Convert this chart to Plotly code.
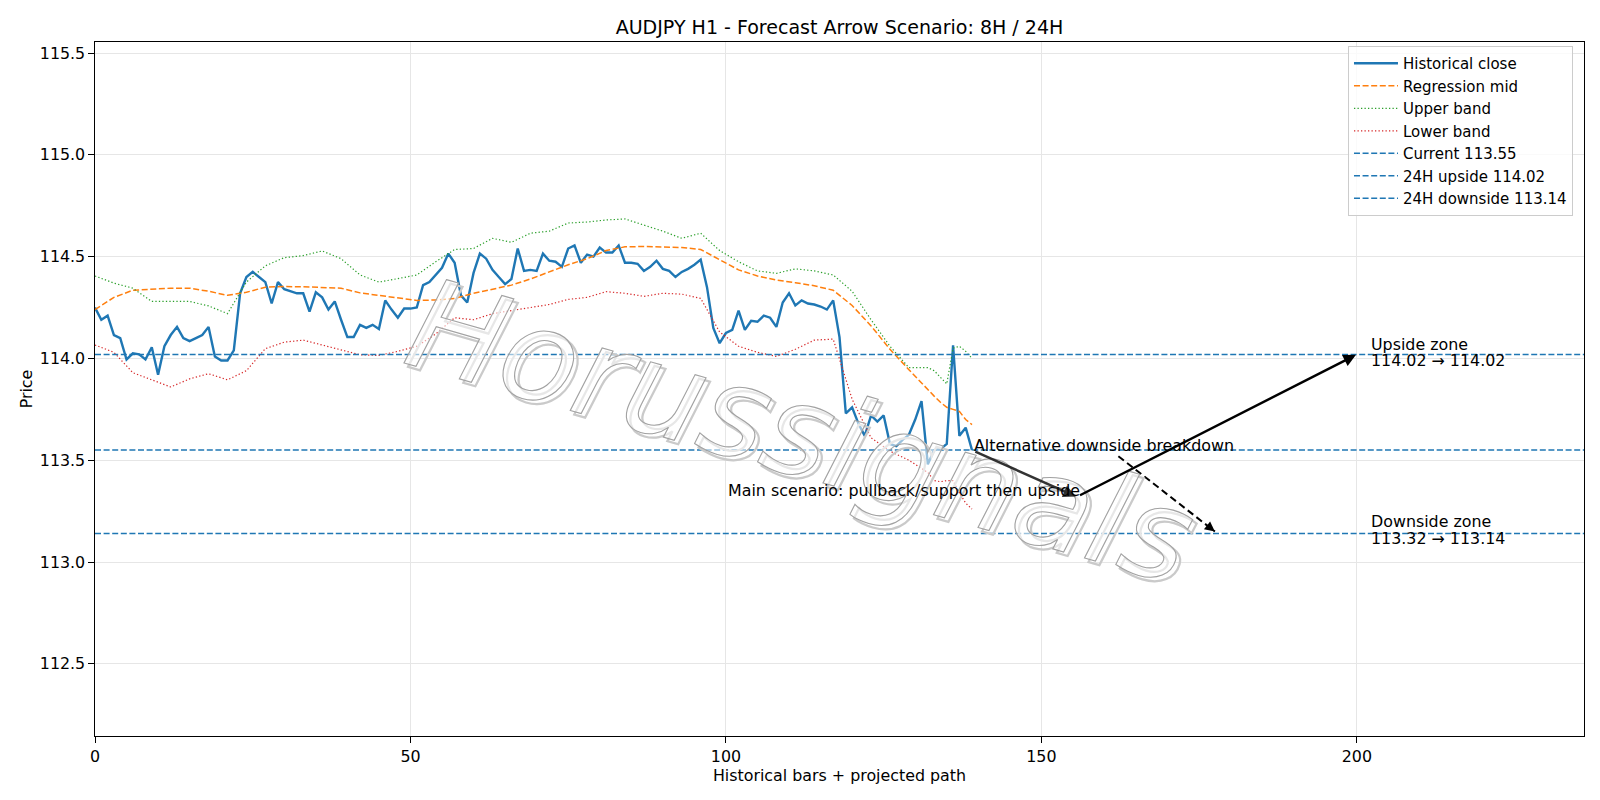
import plotly.graph_objects as go

# ---------------- data ----------------
close = [
    114.25, 114.19, 114.21, 114.115, 114.10, 113.995, 114.025, 114.02, 113.995, 114.055,
    113.92, 114.06, 114.115, 114.155, 114.10, 114.085, 114.10, 114.115, 114.155, 114.01,
    113.99, 113.99, 114.04, 114.32, 114.40, 114.425, 114.40, 114.375, 114.27, 114.375,
    114.34, 114.33, 114.32, 114.32, 114.23, 114.325, 114.30, 114.24, 114.28, 114.19,
    114.105, 114.105, 114.165, 114.15, 114.165, 114.145, 114.285, 114.24, 114.20, 114.245,
    114.245, 114.25, 114.36, 114.375, 114.41, 114.445, 114.515, 114.47, 114.31, 114.275,
    114.42, 114.515, 114.49, 114.435, 114.40, 114.365, 114.39, 114.54, 114.43, 114.435,
    114.43, 114.515, 114.48, 114.475, 114.45, 114.54, 114.555, 114.47, 114.51, 114.50,
    114.545, 114.52, 114.52, 114.555, 114.47, 114.47, 114.465, 114.43, 114.45, 114.48,
    114.44, 114.43, 114.40, 114.425, 114.44, 114.46, 114.485, 114.35, 114.15, 114.075,
    114.125, 114.14, 114.235, 114.14, 114.185, 114.18, 114.21, 114.20, 114.155, 114.275,
    114.32, 114.26, 114.285, 114.27, 114.265, 114.255, 114.24, 114.285, 114.105, 113.73,
    113.76, 113.68, 113.62, 113.72, 113.69, 113.72, 113.58, 113.57, 113.60, 113.625,
    113.70, 113.79, 113.48, 113.55, 113.555, 113.58, 114.065, 113.62, 113.66, 113.55,
]
bars = list(range(len(close)))

band_x = [0, 3, 6, 9, 12, 15, 18, 21, 24, 27, 30, 33, 36, 39, 42, 45, 48, 51, 54, 57,
          60, 63, 66, 69, 72, 75, 78, 81, 84, 87, 90, 93, 96, 99, 102, 105, 108, 111,
          114, 117, 120, 123, 126, 129, 132, 133, 134, 135, 136, 137, 138, 139]
mid = [114.24, 114.30, 114.335, 114.34, 114.345, 114.345, 114.33, 114.31, 114.325, 114.35,
       114.353, 114.352, 114.35, 114.345, 114.322, 114.31, 114.296, 114.285, 114.287, 114.295,
       114.32, 114.34, 114.36, 114.39, 114.425, 114.46, 114.49, 114.53, 114.548, 114.55,
       114.547, 114.545, 114.535, 114.485, 114.435, 114.405, 114.385, 114.372, 114.357, 114.335,
       114.26, 114.16, 114.045, 113.945, 113.845, 113.815, 113.785, 113.76, 113.75, 113.74,
       113.70, 113.675]
upper = [114.405, 114.37, 114.345, 114.28, 114.28, 114.28, 114.258, 114.22, 114.375, 114.455,
         114.495, 114.505, 114.528, 114.49, 114.41, 114.375, 114.392, 114.41, 114.475, 114.535,
         114.54, 114.59, 114.57, 114.615, 114.625, 114.665, 114.67, 114.68, 114.685, 114.655,
         114.625, 114.59, 114.615, 114.53, 114.475, 114.43, 114.418, 114.44, 114.43, 114.41,
         114.33, 114.19, 114.06, 113.955, 113.955, 113.94, 113.91, 113.875, 114.05, 114.06,
         114.035, 114.00]
lower = [114.066, 114.03, 113.93, 113.895, 113.86, 113.90, 113.925, 113.895, 113.94, 114.048,
         114.08, 114.09, 114.066, 114.045, 114.018, 114.015, 114.035, 114.06, 114.12, 114.20,
         114.19, 114.22, 114.235, 114.25, 114.265, 114.29, 114.30, 114.328, 114.32, 114.305,
         114.32, 114.316, 114.295, 114.13, 114.06, 114.03, 114.01, 114.045, 114.09, 114.095,
         113.80, 113.61, 113.545, 113.50, 113.44, 113.40, 113.395, 113.40, 113.40, 113.34,
         113.29, 113.26]

current_price = 113.55
upside_level = 114.02
downside_level = 113.14
support_level = 113.32

main_path_x = [139, 155.6, 200]
main_path_y = [113.55, 113.32, 114.02]
alt_path_x = [162.2, 177.5]
alt_path_y = [113.52, 113.15]

x_range = [0, 236]
y_range = [112.146, 115.554]
x_ticks = [0, 50, 100, 150, 200]
y_ticks = [112.5, 113.0, 113.5, 114.0, 114.5, 115.0, 115.5]

# ---------------- figure ----------------
FONT = "DejaVu Sans"
FS = 15.87     # ticks / labels / annotations
FS_LEG = 15.0  # legend
FS_T = 19.05   # title
BLUE = "#1f77b4"

fig = go.Figure()


def add_line(x, y, name, line):
    fig.add_trace(go.Scatter(x=x, y=y, mode="lines", name=name, legendgroup=name, line=line))


add_line(bars, close, "Historical close", dict(color=BLUE, width=2.4))
add_line(band_x, mid, "Regression mid", dict(color="#ff7f0e", width=1.5, dash="6px,2.6px"))
add_line(band_x, upper, "Upper band", dict(color="#2ca02c", width=1.2, dash="1.3px,2.2px"))
add_line(band_x, lower, "Lower band", dict(color="#d62728", width=1.2, dash="1.3px,2.2px"))
for lvl, nm in [(current_price, f"Current {current_price:.2f}"),
                (upside_level, f"24H upside {upside_level:.2f}"),
                (downside_level, f"24H downside {downside_level:.2f}")]:
    add_line(x_range, [lvl, lvl], nm, dict(color=BLUE, width=1.5, dash="6px,2.6px"))

# dashed alternative arrow line
fig.add_trace(go.Scatter(x=alt_path_x, y=alt_path_y, mode="lines", showlegend=False,
                         line=dict(color="black", width=2, dash="7px,4px"), hoverinfo="skip"))

annotations = []
# watermark (index 0 = shadow copy, index 1 = main copy; outlined via post script)
wm_font = dict(family=FONT, size=126, style="italic", color="rgba(255,255,255,0.5)")
annotations.append(dict(x=111.9, y=113.64, xref="x", yref="y", text="Horussignals",
                        showarrow=False, textangle=16, xshift=4, yshift=-4, font=wm_font))
annotations.append(dict(x=111.9, y=113.64, xref="x", yref="y", text="Horussignals",
                        showarrow=False, textangle=16, font=wm_font))
# main scenario arrows
annotations.append(dict(x=main_path_x[1], y=main_path_y[1], ax=main_path_x[0], ay=main_path_y[0],
                        xref="x", yref="y", axref="x", ayref="y", text="", showarrow=True,
                        arrowhead=2, arrowsize=1, arrowwidth=2.5, arrowcolor="rgba(30,30,30,0.9)",
                        standoff=1, startstandoff=2))
annotations.append(dict(x=main_path_x[2], y=main_path_y[2], ax=main_path_x[1], ay=main_path_y[1],
                        xref="x", yref="y", axref="x", ayref="y", text="", showarrow=True,
                        arrowhead=2, arrowsize=1, arrowwidth=2.5, arrowcolor="black",
                        standoff=1, startstandoff=2))
# alternative arrow head
hx = alt_path_x[1] - 0.04 * (alt_path_x[1] - alt_path_x[0])
hy = alt_path_y[1] - 0.04 * (alt_path_y[1] - alt_path_y[0])
annotations.append(dict(x=alt_path_x[1], y=alt_path_y[1], ax=hx, ay=hy,
                        xref="x", yref="y", axref="x", ayref="y", text="", showarrow=True,
                        arrowhead=2, arrowsize=1, arrowwidth=2, arrowcolor="black", standoff=0))
# texts
txt_font = dict(family=FONT, size=FS, color="black")
annotations.append(dict(x=139.0, y=113.575, xref="x", yref="y",
                        text="Alternative downside breakdown", showarrow=False,
                        xanchor="left", yanchor="middle", font=txt_font))
annotations.append(dict(x=156.5, y=113.35, xref="x", yref="y",
                        text="Main scenario: pullback/support then upside", showarrow=False,
                        xanchor="right", yanchor="middle", font=txt_font))
for yv, t in [(114.071, "Upside zone"),
              (113.989, f"{upside_level:.2f} \u2192 {upside_level:.2f}"),
              (113.198, "Downside zone"),
              (113.117, f"{support_level:.2f} \u2192 {downside_level:.2f}")]:
    annotations.append(dict(x=202, y=yv, xref="x", yref="y", text=t, showarrow=False,
                            xanchor="left", yanchor="middle", font=txt_font))

fig.update_layout(
    width=1600, height=800,
    margin=dict(l=95, r=16, t=42, b=64),
    paper_bgcolor="white", plot_bgcolor="white",
    font=dict(family=FONT, size=FS, color="black"),
    title=dict(text="AUDJPY H1 - Forecast Arrow Scenario: 8H / 24H", x=0.5, xref="paper",
               y=1 - 27.5 / 800, yanchor="middle", font=dict(size=FS_T, family=FONT, color="black")),
    showlegend=True,
    legend=dict(x=0.9926, y=0.9942, xanchor="right", yanchor="top",
                bgcolor="rgba(255,255,255,0.8)", bordercolor="#cccccc", borderwidth=1,
                font=dict(family=FONT, size=FS_LEG, color="black"), itemwidth=44, tracegroupgap=0),
    annotations=annotations,
    hovermode=False,
)
fig.update_xaxes(range=x_range, tickvals=x_ticks, showgrid=True, gridcolor="#e6e6e6", gridwidth=1,
                 showline=True, linecolor="black", linewidth=1.2, mirror=True,
                 ticks="outside", ticklen=5.5, tickwidth=1.2, tickcolor="black", zeroline=False,
                 tickfont=dict(size=FS), title=dict(text="Historical bars + projected path",
                                                     font=dict(size=FS), standoff=1))
fig.update_yaxes(range=y_range, tickvals=y_ticks, tickformat=".1f", showgrid=True, gridcolor="#e6e6e6",
                 gridwidth=1, showline=True, linecolor="black", linewidth=1.2, mirror=True,
                 ticks="outside", ticklen=5.5, tickwidth=1.2, tickcolor="black", zeroline=False,
                 tickfont=dict(size=FS), title=dict(text="Price", font=dict(size=FS), standoff=3))

post = """
var gd = document.getElementById('{plot_id}');
function wm(){
  gd.querySelectorAll('g.annotation').forEach(function(g){
    var idx = g.getAttribute('data-index');
    var t = g.querySelector('text.annotation-text');
    if(!t) return;
    if(idx === '0'){ t.style.stroke = '#cacaca'; t.style.strokeWidth = '2.2px'; t.style.fill = 'none'; }
    if(idx === '1'){ t.style.stroke = '#a2a2a2'; t.style.strokeWidth = '1.1px';
                     t.style.fill = 'rgba(255,255,255,0.55)'; t.style.fillOpacity = '1'; }
  });
}
wm();
gd.on('plotly_afterplot', wm);
"""

fig.write_html("out.html", post_script=post)
